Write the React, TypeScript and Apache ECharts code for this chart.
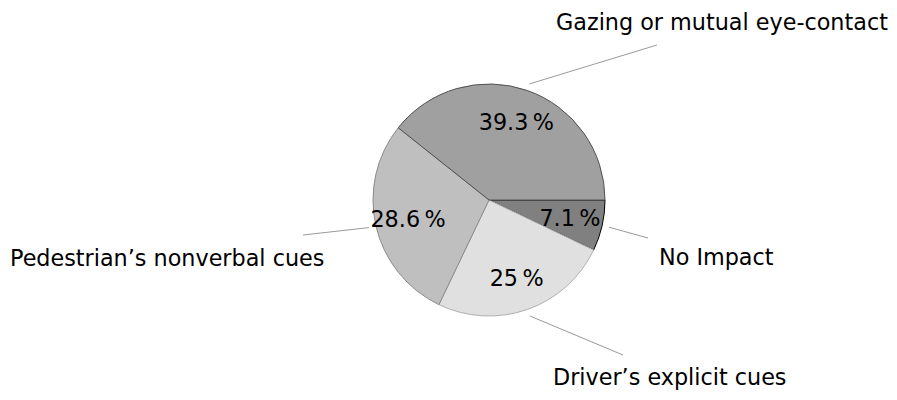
import React, { useEffect, useRef } from "react";
import * as echarts from "echarts";

const categories = [
  "No Impact",
  "Driver\u2019s explicit cues",
  "Pedestrian\u2019s nonverbal cues",
  "Gazing or mutual eye-contact",
];
const shares = [7.1, 25, 28.6, 39.3];
const fills = ["#808080", "#e0e0e0", "#bfbfbf", "#a0a0a0"];
const borders = ["#000000", "#b0b0b0", "#8a8a8a", "#505050"];

// label layout (page px): text anchor and connector end
const labelPos = [
  { x: 659, y: 257, ex: 648, ey: 238 },
  { x: 553, y: 377, ex: 623, ey: 355 },
  { x: 10, y: 258, ex: 303, ey: 235 },
  { x: 556, y: 22, ex: 657, ey: 45 },
];

const FONT = "DejaVu Sans";
const FS = 22.3;
const R = 116;
const CENTER = [489, 200];

export default function App() {
  const ref = useRef<HTMLDivElement>(null);
  useEffect(() => {
    if (!ref.current) return;
    const chart = echarts.init(ref.current, null, { renderer: "svg" });
    const data = categories.map((name, i) => ({ name, value: shares[i] }));
    chart.setOption({
      animation: false,
      backgroundColor: "#ffffff",
      series: [
        {
          type: "pie",
          center: CENTER,
          radius: [0, R],
          startAngle: 0,
          clockwise: true,
          silent: true,
          label: { show: false },
          labelLine: { show: false },
          data: data.map((d, i) => ({
            ...d,
            itemStyle: { color: fills[i], borderColor: borders[i], borderWidth: 1 },
          })),
        },
        {
          type: "pie",
          center: CENTER,
          radius: [R * 0.38, R],
          startAngle: 0,
          clockwise: true,
          silent: true,
          itemStyle: { color: "rgba(0,0,0,0)", borderWidth: 0 },
          label: {
            show: true,
            position: "inside",
            formatter: (p: any) => `${p.value}\u2009%`,
            color: "#000",
            fontFamily: FONT,
            fontSize: FS,
            padding: [4, 0, 0, 0],
          },
          labelLine: { show: false },
          data,
        },
        {
          type: "pie",
          center: CENTER,
          radius: [0, R + 7],
          startAngle: 0,
          clockwise: true,
          silent: true,
          avoidLabelOverlap: false,
          itemStyle: { color: "rgba(0,0,0,0)", borderWidth: 0 },
          label: {
            show: true,
            position: "outside",
            formatter: "{b}",
            color: "#000",
            fontFamily: FONT,
            fontSize: FS,
          },
          labelLine: {
            show: true,
            length: 10,
            length2: 10,
            lineStyle: { color: "#9a9a9a", width: 1 },
          },
          labelLayout: (p: any) => {
            const lp = labelPos[p.dataIndex];
            const start = p.labelLinePoints ? p.labelLinePoints[0] : [lp.ex, lp.ey];
            return {
              x: lp.x,
              y: lp.y,
              align: "left",
              verticalAlign: "middle",
              labelLinePoints: [start, [lp.ex, lp.ey]],
            };
          },
          data,
        },
      ],
    });
    return () => chart.dispose();
  }, []);
  return (
    <div
      ref={ref}
      style={{ position: "absolute", left: 0, top: 0, width: 897, height: 400 }}
    />
  );
}
